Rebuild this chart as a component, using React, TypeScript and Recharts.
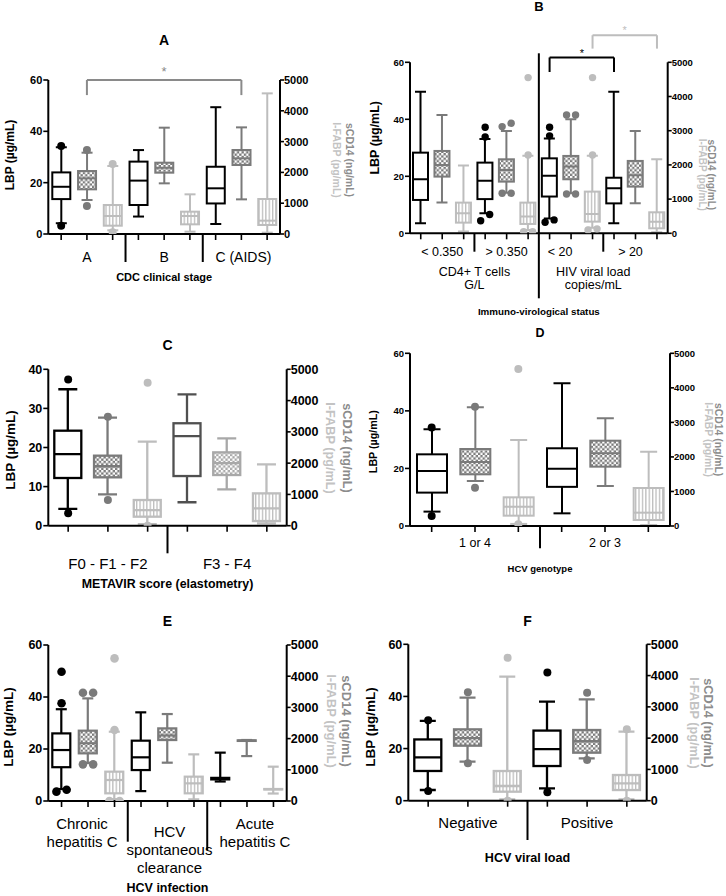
import React from "react";
import { ComposedChart, Bar, Scatter, XAxis, YAxis, ReferenceLine } from "recharts";

const FONT = '"Liberation Sans", Arial, Helvetica, sans-serif';

// box stats are [min, q1, median, q3, max]; outliers per group listed apart
// A - CDC clinical stage
const A_GROUPS = [["A"], ["B"], ["C (AIDS)"]];
const A_LBP = [[4.2, 13.6, 18.4, 24.0, 33.8], [6.8, 11.3, 20.8, 28.2, 32.7], [3.9, 11.9, 17.8, 26.2, 49.4]];
const A_SCD14 = [[1104, 1450, 1807, 2045, 2640], [1645, 1991, 2150, 2315, 3452], [1125, 2240, 2456, 2727, 3462]];
const A_IFABP = [[120, 270, 584, 941, 2207], [76, 314, 584, 725, 1288], [43, 292, 433, 1136, 4566]];
const A_LBP_OUT = [[34.3, 3.2], [], []];
const A_SCD14_OUT = [[2727, 909], [], []];
const A_IFABP_OUT = [[2272, 60], [], []];
const A_BRACKETS = [{ from: "0-1", to: "2-1", top: 5000, foot: 4510, axis: "right", color: "#8a8a8a" }];

// B - immuno-virological status
const B_GROUPS = [["< 0.350"], ["> 0.350"], ["< 20"], ["> 20"]];
const B_OUTER = [["CD4+ T cells", "G/L"], ["HIV viral load", "copies/mL"]];
const B_LBP = [[3.5, 11.7, 19.0, 28.3, 49.7], [7.0, 12.0, 18.4, 24.8, 33.1], [5.2, 12.9, 20.2, 26.3, 33.3], [3.5, 10.5, 15.8, 19.5, 49.7]];
const B_SCD14 = [[897, 1658, 2000, 2408, 3461], [1189, 1511, 1850, 2164, 2993], [1170, 1580, 1950, 2262, 3335], [878, 1365, 1700, 2116, 2993]];
const B_IFABP = [[49, 312, 585, 897, 1979], [100, 273, 488, 897, 2265], [160, 341, 566, 1219, 2265], [29, 146, 341, 614, 2165]];
const B_LBP_OUT = [[], [37.2, 33.8, 6.6, 4.4], [37.2, 34.2, 4.7, 3.9], []];
const B_SCD14_OUT = [[], [3217, 3120, 1170, 1170], [3461, 3461, 1150, 1150], []];
const B_IFABP_OUT = [[], [4553, 2291, 50, 50], [4553, 2291, 100, 130], []];
const B_BRACKETS = [
  { from: "2-0", to: "3-0", top: 61.7, foot: 56.6, axis: "left", color: "#000000" },
  { from: "2-2", to: "3-2", top: 69.5, foot: 64.8, axis: "left", color: "#bdbdbd" },
];

// C - METAVIR score
const C_GROUPS = [["F0 - F1 - F2"], ["F3 - F4"]];
const C_LBP = [[4.3, 12.2, 18.3, 24.3, 34.9], [6.0, 12.7, 22.9, 26.2, 33.6]];
const C_SCD14 = [[1002, 1546, 1900, 2239, 3454], [1162, 1620, 2000, 2345, 2793]];
const C_IFABP = [[50, 288, 501, 821, 2686], [75, 149, 554, 1034, 1961]];
const C_LBP_OUT = [[37.4, 3.2], []];
const C_SCD14_OUT = [[3486, 821], []];
const C_IFABP_OUT = [[4573, 0], []];

// D - HCV genotype
const D_GROUPS = [["1 or 4"], ["2 or 3"]];
const D_LBP = [[5.0, 11.6, 19.1, 24.9, 33.6], [4.4, 13.6, 19.9, 27.0, 49.6]];
const D_SCD14 = [[1303, 1496, 1850, 2229, 3435], [1158, 1718, 2104, 2470, 3117]];
const D_IFABP = [[60, 299, 560, 830, 2490], [29, 174, 386, 1100, 2152]];
const D_LBP_OUT = [[34.2, 3.5], []];
const D_SCD14_OUT = [[3455, 1110], []];
const D_IFABP_OUT = [[4545, 48], []];

// E - HCV infection
const E_GROUPS = [["Chronic", "hepatitis C"], ["HCV", "spontaneous", "clearance"], ["Acute", "hepatitis C"]];
const E_LBP = [[4.6, 13.0, 19.6, 26.0, 35.3], [3.8, 11.9, 16.8, 23.2, 34.1], [7.5, 8.3, 8.6, 8.9, 18.6]];
const E_SCD14 = [[1220, 1527, 1850, 2254, 3289], [1228, 1954, 2100, 2328, 2787], [1440, 1925, 1935, 1945, 1955]];
const E_IFABP = [[60, 246, 673, 940, 2221], [53, 246, 566, 780, 1495], [240, 370, 378, 385, 1100]];
const E_LBP_OUT = [[49.7, 37.6, 3.6, 4.3], [], []];
const E_SCD14_OUT = [[3471, 3471, 1175, 1175], [], []];
const E_IFABP_OUT = [[4571, 2275, 0, 0], [], []];

// F - HCV viral load
const F_GROUPS = [["Negative"], ["Positive"]];
const F_LBP = [[4.1, 11.4, 16.6, 23.5, 30.6], [4.7, 13.3, 19.8, 26.9, 38.0]];
const F_SCD14 = [[1247, 1759, 2000, 2281, 3294], [1354, 1535, 1900, 2260, 3241]];
const F_IFABP = [[40, 288, 470, 949, 3966], [40, 341, 554, 821, 2207]];
const F_LBP_OUT = [[30.9, 3.7], [49.2, 3.2]];
const F_SCD14_OUT = [[3465, 1194], [3454, 1300]];
const F_IFABP_OUT = [[4573, 0], [2281, 0]];

const LBP_TICKS = [0, 20, 40, 60];
const LBP_TICKS_C = [0, 10, 20, 30, 40];
const RIGHT_TICKS = [0, 1000, 2000, 3000, 4000, 5000];

const COLORS: any = { lbp: "#000000", scd: "#7a7a7a", ifabp: "#bdbdbd" };
const CHECKERS = ["7a7a7a", "a8a8a8"];
const STRIPES = ["bdbdbd"];

function spread(vals: number[], thr: number) {
  const offs = vals.map(() => 0);
  const idx = vals.map((_, i) => i).sort((a, b) => vals[a] - vals[b]);
  let start = 0;
  for (let i = 1; i <= idx.length; i++) {
    if (i === idx.length || vals[idx[i]] - vals[idx[i - 1]] >= thr) {
      const n = i - start;
      for (let j = 0; j < n; j++) offs[idx[start + j]] = j * 2 - (n - 1);
      start = i;
    }
  }
  return offs;
}

function buildRows(d: any, leftMax: number) {
  const rows: any[] = [];
  d.groups.forEach((_: any, g: number) => {
    const parts = [
      { series: "lbp", axis: "L", stats: d.lbp[g], out: d.lbpOut[g], max: leftMax },
      { series: "scd", axis: "R", stats: d.scd[g], out: d.scdOut[g], max: 5000 },
      { series: "ifabp", axis: "R", stats: d.ifabp[g], out: d.ifOut[g], max: 5000 },
    ];
    parts.forEach((p, k) => {
      const row: any = { slot: `${g}-${k}`, series: p.series, axis: p.axis, stats: p.stats };
      const jit = spread(p.out, p.max * 0.045);
      p.out.forEach((v: number, i: number) => {
        row[`${p.axis}${i}`] = v;
        row[`J${i}`] = jit[i];
      });
      rows.push(row);
    });
  });
  return rows;
}

function Panel({ d, cfg }: any) {
  const { left, top, width, height, plot } = cfg;
  const leftMax = cfg.leftTicks[cfg.leftTicks.length - 1];
  const rows = buildRows(d, leftMax);
  const pl = plot.l - left;
  const pr = plot.r - left;
  const pt = plot.t - top;
  const pb = plot.b - top;
  const midY = (pt + pb) / 2;
  const TICK = 6;

  const colorOf = (row: any) => (cfg.overrides && cfg.overrides[row.slot]) || COLORS[row.series];

  const boxShape = (p: any) => {
    const row = p.payload;
    if (!row || !row.stats || typeof p.y !== "number" || !isFinite(p.y) || !isFinite(p.height)) return <g />;
    const [lo, q1, md, q3, hi] = row.stats;
    const y0 = Math.min(p.y, p.y + p.height);
    const h = Math.abs(p.height);
    const py = (v: number) => y0 + (h * (hi - v)) / (hi - lo);
    const cx = p.x + p.width / 2;
    const bw = p.width;
    const cw = cfg.cap;
    const col = colorOf(row);
    const hex = col.slice(1);
    const fill = row.series === "lbp" ? "#ffffff" : row.series === "scd" ? `url(#chk-${hex})` : `url(#str-${hex})`;
    const sw = cfg.sw;
    return (
      <g>
        <line x1={cx} x2={cx} y1={py(hi)} y2={py(lo)} stroke={col} strokeWidth={sw} />
        <line x1={cx - cw / 2} x2={cx + cw / 2} y1={py(hi)} y2={py(hi)} stroke={col} strokeWidth={sw} />
        <line x1={cx - cw / 2} x2={cx + cw / 2} y1={py(lo)} y2={py(lo)} stroke={col} strokeWidth={sw} />
        <rect x={cx - bw / 2} y={py(q3)} width={bw} height={Math.max(py(q1) - py(q3), 0.5)} fill={fill} stroke={col} strokeWidth={sw} />
        <line x1={cx - bw / 2} x2={cx + bw / 2} y1={py(md)} y2={py(md)} stroke={col} strokeWidth={sw} />
      </g>
    );
  };

  const dotShape = (key: string, jkey: string) => (p: any) => {
    const row = p.payload;
    if (!row || row[key] == null || typeof p.cy !== "number" || typeof p.cx !== "number") return <g />;
    const r = cfg.r;
    return <circle cx={p.cx + (row[jkey] || 0) * (r + 0.8)} cy={p.cy} r={r} fill={colorOf(row)} />;
  };

  const renderTick = (p: any) => {
    const i = p.index;
    const g = Math.floor(i / 3);
    const k = i % 3;
    const axisY = p.y - TICK;
    const half = p.payload && typeof p.payload.offset === "number" && p.payload.offset > 0 ? p.payload.offset : (pr - pl) / rows.length / 2;
    const els: any[] = [];
    if (k === 1) {
      const first = cfg.groupDy[g] ?? cfg.groupDy[0];
      const dx = (cfg.groupDx && cfg.groupDx[g]) || 0;
      d.groups[g].forEach((t: string, j: number) => {
        els.push(
          <text key={`l${j}`} x={p.x + dx} y={axisY + first + j * cfg.lineH} textAnchor="middle" dominantBaseline="central" fontSize={cfg.groupFont} fill="#000" fontFamily={FONT}>
            {t}
          </text>
        );
      });
    }
    if (k === 2 && g < d.groups.length - 1) {
      const sep = cfg.seps[g];
      els.push(<line key="sep" x1={p.x + half} x2={p.x + half} y1={axisY - (sep.up || 0)} y2={axisY + sep.down} stroke="#000" strokeWidth={2} />);
    }
    if (cfg.outer) {
      cfg.outer.forEach((o: any, oi: number) => {
        if (o.after !== i) return;
        d.outer[oi].forEach((t: string, j: number) => {
          els.push(
            <text key={`o${j}`} x={p.x + half + o.dx} y={axisY + cfg.outerDy + j * cfg.outerLineH} textAnchor="middle" dominantBaseline="central" fontSize={cfg.groupFont} fill="#000" fontFamily={FONT}>
              {t}
            </text>
          );
        });
      });
    }
    return <g>{els}</g>;
  };

  const axisStroke = { stroke: "#000", strokeWidth: 2 };
  const tickStyle = { fontSize: cfg.tickFont, fontWeight: 700, fill: "#000", fontFamily: FONT };

  return (
    <>
      <div
        style={{
          position: "absolute",
          left: (plot.l + plot.r) / 2 - 30,
          top: cfg.title.y - cfg.title.size * 0.6,
          width: 60,
          textAlign: "center",
          fontSize: cfg.title.size,
          lineHeight: `${cfg.title.size * 1.2}px`,
          fontWeight: 700,
          fontFamily: FONT,
        }}
      >
        {cfg.title.text}
      </div>
      <div style={{ position: "absolute", left, top, width, height }}>
        <ComposedChart width={width} height={height} data={rows} margin={{ top: pt, right: 0, bottom: 0, left: 0 }}>
          <XAxis
            xAxisId="catL"
            dataKey="slot"
            type="category"
            interval={0}
            height={top + height - plot.b}
            tickSize={TICK}
            tickMargin={0}
            axisLine={axisStroke}
            tickLine={{ stroke: "#000", strokeWidth: 1.6 }}
            tick={renderTick}
            label={{
              content: () => (
                <text x={(pl + pr) / 2} y={pb + cfg.axisTitle.dy} textAnchor="middle" dominantBaseline="central" fontSize={cfg.axisTitle.size} fontWeight={700} fill="#000" fontFamily={FONT}>
                  {cfg.axisTitle.text}
                </text>
              ),
            }}
          />
          <XAxis xAxisId="catR" dataKey="slot" type="category" hide />
          <YAxis
            yAxisId="left"
            domain={[0, leftMax]}
            ticks={cfg.leftTicks}
            allowDataOverflow
            width={pl}
            tickSize={5}
            tickMargin={1}
            axisLine={axisStroke}
            tickLine={{ stroke: "#000", strokeWidth: 1.6 }}
            tick={tickStyle}
            label={{
              content: () => (
                <text
                  transform={`translate(${pl + cfg.lbp.dx}, ${midY + cfg.lbp.dy}) rotate(-90)`}
                  textAnchor="middle"
                  dominantBaseline="central"
                  fontSize={cfg.lbp.size}
                  fontWeight={700}
                  fill="#000"
                  fontFamily={FONT}
                >
                  LBP (µg/mL)
                </text>
              ),
            }}
          />
          <YAxis
            yAxisId="right"
            orientation="right"
            domain={[0, 5000]}
            ticks={RIGHT_TICKS}
            allowDataOverflow
            width={left + width - plot.r}
            tickSize={4}
            tickMargin={0}
            axisLine={axisStroke}
            tickLine={{ stroke: "#000", strokeWidth: 1.6 }}
            tick={tickStyle}
            label={{
              content: () => (
                <g fontSize={cfg.rl.size} fontWeight={700} fontFamily={FONT}>
                  <text transform={`translate(${pr + cfg.rl.dx1}, ${midY + cfg.rl.dy}) rotate(90)`} textAnchor="middle" dominantBaseline="central" fill="#8c8c8c">
                    sCD14 (ng/mL)
                  </text>
                  <text transform={`translate(${pr + cfg.rl.dx2}, ${midY + cfg.rl.dy}) rotate(90)`} textAnchor="middle" dominantBaseline="central" fill="#c3c3c3">
                    I-FABP (pg/mL)
                  </text>
                </g>
              ),
            }}
          />
          <Bar
            xAxisId="catL"
            yAxisId="left"
            dataKey={(r: any) => (r.axis === "L" ? [r.stats[0], r.stats[4]] : null)}
            barSize={cfg.box}
            shape={boxShape}
            isAnimationActive={false}
          />
          <Bar
            xAxisId="catR"
            yAxisId="right"
            dataKey={(r: any) => (r.axis === "R" ? [r.stats[0], r.stats[4]] : null)}
            barSize={cfg.box}
            shape={boxShape}
            isAnimationActive={false}
          />
          {[0, 1, 2, 3].map((i) => (
            <Scatter key={`sl${i}`} xAxisId="catL" yAxisId="left" dataKey={`L${i}`} shape={dotShape(`L${i}`, `J${i}`)} isAnimationActive={false} />
          ))}
          {[0, 1, 2, 3].map((i) => (
            <Scatter key={`sr${i}`} xAxisId="catR" yAxisId="right" dataKey={`R${i}`} shape={dotShape(`R${i}`, `J${i}`)} isAnimationActive={false} />
          ))}
          {(d.brackets || []).map((b: any, i: number) => [
            <ReferenceLine
              key={`bt${i}`}
              xAxisId="catL"
              yAxisId={b.axis}
              segment={[{ x: b.from, y: b.top }, { x: b.to, y: b.top }]}
              stroke={b.color}
              strokeWidth={2}
              ifOverflow="visible"
              label={{ value: "*", position: "top", fill: b.color, fontSize: cfg.star.size, offset: cfg.star.off[i], fontFamily: FONT }}
            />,
            <ReferenceLine key={`bl${i}`} xAxisId="catL" yAxisId={b.axis} segment={[{ x: b.from, y: b.top }, { x: b.from, y: b.foot }]} stroke={b.color} strokeWidth={2} ifOverflow="visible" />,
            <ReferenceLine key={`br${i}`} xAxisId="catL" yAxisId={b.axis} segment={[{ x: b.to, y: b.top }, { x: b.to, y: b.foot }]} stroke={b.color} strokeWidth={2} ifOverflow="visible" />,
          ])}
        </ComposedChart>
      </div>
    </>
  );
}

const PANELS = [
  {
    d: { groups: A_GROUPS, lbp: A_LBP, scd: A_SCD14, ifabp: A_IFABP, lbpOut: A_LBP_OUT, scdOut: A_SCD14_OUT, ifOut: A_IFABP_OUT, brackets: A_BRACKETS },
    cfg: {
      left: 0, top: 50, width: 363, height: 240, plot: { l: 48.3, r: 280, t: 80, b: 234 },
      title: { text: "A", y: 40, size: 14 }, leftTicks: LBP_TICKS, tickFont: 11, groupFont: 14, groupDy: [22.7], groupDx: [0, 0, 2], lineH: 16,
      axisTitle: { text: "CDC clinical stage", dy: 43, size: 11 }, lbp: { dx: -38, dy: -2, size: 12 }, rl: { dx1: 70, dx2: 57, dy: 3, size: 10.5 },
      box: 18, cap: 11, r: 4, sw: 2, seps: [{ down: 28 }, { down: 28 }], star: { size: 13, off: [4] },
    },
  },
  {
    d: { groups: B_GROUPS, outer: B_OUTER, lbp: B_LBP, scd: B_SCD14, ifabp: B_IFABP, lbpOut: B_LBP_OUT, scdOut: B_SCD14_OUT, ifOut: B_IFABP_OUT, brackets: B_BRACKETS },
    cfg: {
      left: 363, top: 15, width: 363, height: 310, plot: { l: 410, r: 667.7, t: 62.3, b: 233.3 },
      title: { text: "B", y: 7, size: 13 }, leftTicks: LBP_TICKS, tickFont: 9.5, groupFont: 12.5, groupDy: [18.4], groupDx: [0, 0, -11, -5], lineH: 13.3,
      outer: [{ after: 2, dx: 0 }, { after: 8, dx: -10 }], outerDy: 38.4, outerLineH: 13.3,
      axisTitle: { text: "Immuno-virological status", dy: 78.4, size: 9.8 }, lbp: { dx: -35, dy: -10, size: 12.5 }, rl: { dx1: 44, dx2: 35, dy: 27, size: 10 },
      box: 15, cap: 11, r: 3.7, sw: 2, seps: [{ down: 18.4 }, { down: 65, up: 180 }, { down: 18.4 }], star: { size: 11, off: [0, 1] },
    },
  },
  {
    d: { groups: C_GROUPS, lbp: C_LBP, scd: C_SCD14, ifabp: C_IFABP, lbpOut: C_LBP_OUT, scdOut: C_SCD14_OUT, ifOut: C_IFABP_OUT },
    cfg: {
      left: 0, top: 355, width: 363, height: 245, plot: { l: 48.3, r: 286.7, t: 369.3, b: 525.7 },
      title: { text: "C", y: 345, size: 14 }, leftTicks: LBP_TICKS_C, tickFont: 12.5, groupFont: 15, groupDy: [37.6], lineH: 17,
      axisTitle: { text: "METAVIR score (elastometry)", dy: 58.3, size: 12.4 }, lbp: { dx: -38, dy: 2.5, size: 13.5 }, rl: { dx1: 60, dx2: 43, dy: 0.5, size: 12.7 },
      box: 27, cap: 19, r: 4, sw: 2.3, seps: [{ down: 27.6 }], overrides: { "1-0": "#505050", "1-1": "#a8a8a8" }, star: { size: 12, off: [] },
    },
  },
  {
    d: { groups: D_GROUPS, lbp: D_LBP, scd: D_SCD14, ifabp: D_IFABP, lbpOut: D_LBP_OUT, scdOut: D_SCD14_OUT, ifOut: D_IFABP_OUT },
    cfg: {
      left: 363, top: 340, width: 363, height: 240, plot: { l: 410, r: 670, t: 353.3, b: 526 },
      title: { text: "D", y: 333, size: 12.5 }, leftTicks: LBP_TICKS, tickFont: 9.5, groupFont: 12.5, groupDy: [17.3], lineH: 14,
      axisTitle: { text: "HCV genotype", dy: 42.3, size: 9.5 }, lbp: { dx: -37, dy: 2, size: 10.7 }, rl: { dx1: 48, dx2: 38, dy: 0, size: 10.4 },
      box: 30, cap: 17, r: 4, sw: 2, seps: [{ down: 22.3 }], star: { size: 12, off: [] },
    },
  },
  {
    d: { groups: E_GROUPS, lbp: E_LBP, scd: E_SCD14, ifabp: E_IFABP, lbpOut: E_LBP_OUT, scdOut: E_SCD14_OUT, ifOut: E_IFABP_OUT },
    cfg: {
      left: 0, top: 630, width: 363, height: 266, plot: { l: 48.3, r: 286.7, t: 645, b: 801 },
      title: { text: "E", y: 621, size: 14 }, leftTicks: LBP_TICKS, tickFont: 12.5, groupFont: 15, groupDy: [22.3, 30.7, 22.3], groupDx: [-6, 2, 8], lineH: 17.8,
      axisTitle: { text: "HCV infection", dy: 86.5, size: 12.5 }, lbp: { dx: -40, dy: 4, size: 13.5 }, rl: { dx1: 60, dx2: 45, dy: -2, size: 13 },
      box: 18, cap: 11, r: 4.3, sw: 2.2, seps: [{ down: 40.7 }, { down: 49 }], star: { size: 12, off: [] },
    },
  },
  {
    d: { groups: F_GROUPS, lbp: F_LBP, scd: F_SCD14, ifabp: F_IFABP, lbpOut: F_LBP_OUT, scdOut: F_SCD14_OUT, ifOut: F_IFABP_OUT },
    cfg: {
      left: 363, top: 630, width: 363, height: 266, plot: { l: 408.3, r: 646.7, t: 644.3, b: 800.7 },
      title: { text: "F", y: 621, size: 14 }, leftTicks: LBP_TICKS, tickFont: 12.5, groupFont: 15, groupDy: [22], lineH: 17,
      axisTitle: { text: "HCV viral load", dy: 57.6, size: 12.6 }, lbp: { dx: -38, dy: 4.5, size: 13.5 }, rl: { dx1: 61, dx2: 47, dy: 0.5, size: 12.7 },
      box: 27, cap: 16, r: 4, sw: 2.3, seps: [{ down: 39.3 }], star: { size: 12, off: [] },
    },
  },
];

export default function App() {
  return (
    <div style={{ position: "absolute", left: 0, top: 0, width: 726, height: 896, background: "#fff", overflow: "hidden", fontFamily: FONT }}>
      <svg width={0} height={0} style={{ position: "absolute" }}>
        <defs>
          {CHECKERS.map((c) => (
            <pattern key={c} id={`chk-${c}`} width={4.6} height={4.6} patternUnits="userSpaceOnUse">
              <rect width={4.6} height={4.6} fill={`#${c}`} />
              <rect width={2.3} height={2.3} fill="#fff" />
              <rect x={2.3} y={2.3} width={2.3} height={2.3} fill="#fff" />
            </pattern>
          ))}
          {STRIPES.map((c) => (
            <pattern key={c} id={`str-${c}`} width={3.4} height={10} patternUnits="userSpaceOnUse">
              <rect width={3.4} height={10} fill="#fff" />
              <rect width={1.3} height={10} fill={`#${c}`} />
            </pattern>
          ))}
        </defs>
      </svg>
      {PANELS.map((p, i) => (
        <Panel key={i} d={p.d} cfg={p.cfg} />
      ))}
    </div>
  );
}
